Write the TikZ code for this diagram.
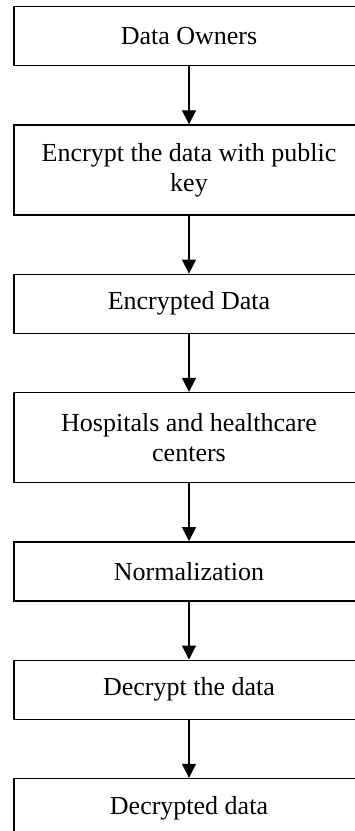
\documentclass[tikz,border=0pt]{standalone}
\usepackage{fontspec}
\setmainfont{Liberation Serif}
\usetikzlibrary{arrows.meta, positioning}

\begin{document}
\begin{tikzpicture}[
    x=1pt, y=1pt,
    node distance=58pt,
    every node/.style={font=\fontsize{26}{30}\selectfont},
    process/.style={rectangle, minimum width=350pt, minimum height=59pt,
                    align=center, draw=black, line width=1.3pt, fill=white},
    tallprocess/.style={process, minimum height=90pt},
    arrow/.style={-{Triangle[length=14pt, width=14pt]}, line width=1.2pt}
]
\clip (0,0) rectangle (355,-831);
\fill[white] (0,0) rectangle (355,-831);

\node (owners) [process, anchor=north] at (189,-6) {Data Owners};
\node (encrypt) [tallprocess, below=of owners] {Encrypt the data with public\\key};
\node (encdata) [process, below=of encrypt] {Encrypted Data};
\node (hospitals) [tallprocess, below=of encdata] {Hospitals and healthcare\\centers};
\node (norm) [process, below=of hospitals] {Normalization};
\node (decrypt) [process, below=of norm] {Decrypt the data};
\node (decdata) [process, below=of decrypt] {Decrypted data};

\draw [arrow] (owners) -- (encrypt);
\draw [arrow] (encrypt) -- (encdata);
\draw [arrow] (encdata) -- (hospitals);
\draw [arrow] (hospitals) -- (norm);
\draw [arrow] (norm) -- (decrypt);
\draw [arrow] (decrypt) -- (decdata);

\end{tikzpicture}
\end{document}
